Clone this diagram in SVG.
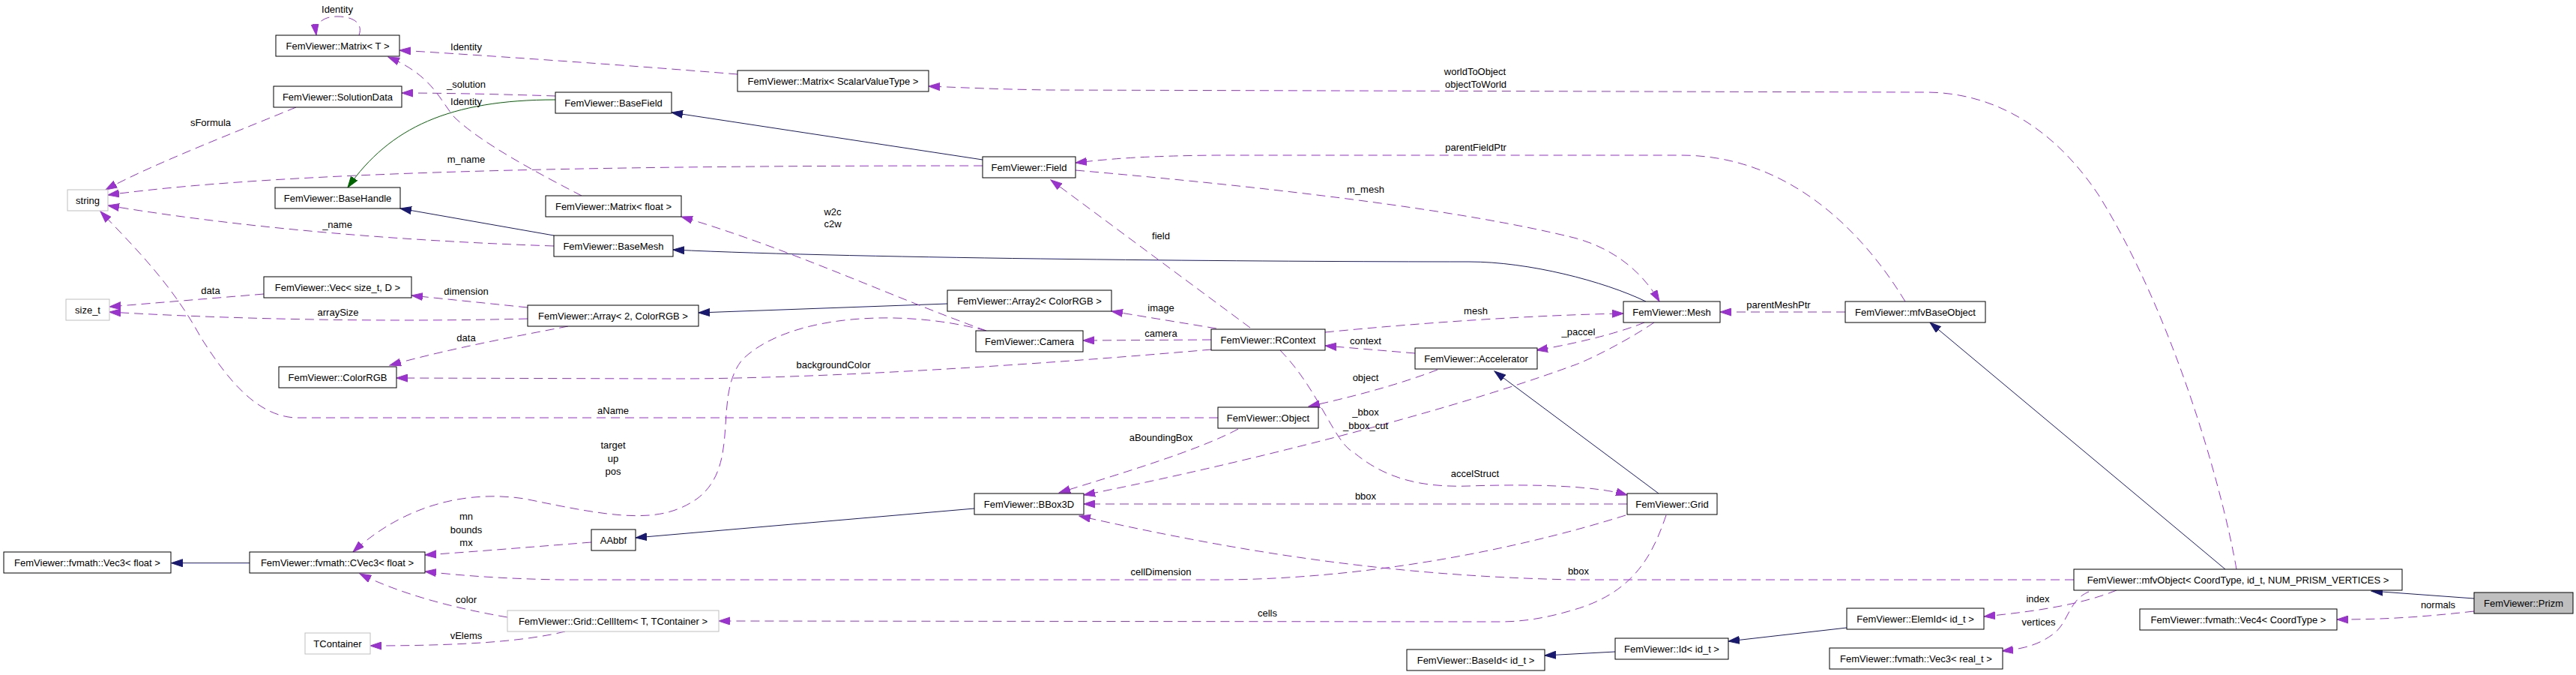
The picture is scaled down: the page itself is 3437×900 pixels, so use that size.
<svg xmlns="http://www.w3.org/2000/svg" width="3437" height="900" viewBox="0 0 3437 900">
<style>
text{font-family:"Liberation Sans",Arial,sans-serif;font-size:13px;fill:#000;text-anchor:middle}
.n rect{fill:#fff;stroke:#000;stroke-width:1}
.g rect{fill:#fff;stroke:#bfbfbf;stroke-width:1}
.f rect{fill:#bfbfbf;stroke:#000;stroke-width:1}
.u{fill:none;stroke:#9a32cd;stroke-width:1;stroke-dasharray:12,7;marker-end:url(#ap)}
.i{fill:none;stroke:#191970;stroke-width:1;marker-end:url(#ai)}
.p{fill:none;stroke:#006400;stroke-width:1;marker-end:url(#ag)}
</style>
<defs>
<marker id="ap" markerWidth="16" markerHeight="11" refX="15" refY="5.5" orient="auto" markerUnits="userSpaceOnUse"><path d="M0,0.5 L15,5.5 L0,10.5 z" fill="#9a32cd" stroke="#9a32cd"/></marker>
<marker id="ai" markerWidth="16" markerHeight="11" refX="15" refY="5.5" orient="auto" markerUnits="userSpaceOnUse"><path d="M0,0.5 L15,5.5 L0,10.5 z" fill="#191970" stroke="#191970"/></marker>
<marker id="ag" markerWidth="16" markerHeight="11" refX="15" refY="5.5" orient="auto" markerUnits="userSpaceOnUse"><path d="M0,0.5 L15,5.5 L0,10.5 z" fill="#006400" stroke="#006400"/></marker>
</defs>
<rect width="3437" height="900" fill="#fff"/>
<g id="connectors">
<path class="i" d="M333,750.7 L228.6,750.7"/>
<path class="i" d="M1300,678 L848,717"/>
<path class="i" d="M1311,213 L896,150"/>
<path class="i" d="M739,314 L534,278"/>
<path class="i" d="M2196,402 C2140,375 2040,349 1960,349 C1700,349 1150,345 898,333"/>
<path class="i" d="M1264,405 L932,417"/>
<path class="i" d="M2213,658 L1994,495"/>
<path class="i" d="M2969,759 L2575,430"/>
<path class="i" d="M3301,798 L3164,788"/>
<path class="i" d="M2464,837 L2306,855"/>
<path class="i" d="M2155,869 L2061,874"/>
<path class="p" d="M741,133 C600,133 520,170 464,250"/>
<path class="u" d="M479,47 C485,30 470,22 450,22 C430,22 420,32 422,47"/>
<path class="u" d="M984,99 C850,88 650,74 533,67"/>
<path class="u" d="M776,261 C720,232 640,190 605,155 C585,130 575,100 518,76"/>
<path class="u" d="M741,128 C680,126 600,124 536,124"/>
<path class="u" d="M395,143 C330,170 200,220 141,253"/>
<path class="u" d="M1311,221 C900,221 400,225 144,260"/>
<path class="u" d="M739,328 C500,320 300,300 144,274"/>
<path class="u" d="M1625,557 L395,557 C340,555 300,500 268,450 C230,380 180,330 134,282"/>
<path class="u" d="M352,392 L146,409"/>
<path class="u" d="M704,410 L549,394"/>
<path class="u" d="M704,425 C500,430 300,425 146,416"/>
<path class="u" d="M758,435 C680,450 600,465 520,487"/>
<path class="u" d="M1616,466 C1400,485 1100,505 900,505 L529,504"/>
<path class="u" d="M1623,438 L1483,415"/>
<path class="u" d="M1616,453 L1445,454"/>
<path class="u" d="M1668,437 L1402,240"/>
<path class="u" d="M1768,443 C1900,430 2050,420 2166,418"/>
<path class="u" d="M1888,471 L1768,461"/>
<path class="u" d="M2194,430 C2170,440 2120,455 2050,467"/>
<path class="u" d="M1918,493 C1860,515 1800,530 1746,542"/>
<path class="u" d="M2207,430 C2170,455 2120,480 2100,487 C1900,560 1600,630 1446,660"/>
<path class="u" d="M1652,572 C1600,600 1500,630 1413,657"/>
<path class="u" d="M1708,467 C1760,520 1780,590 1806,603 C1850,640 1900,650 1960,648 C2050,645 2130,648 2171,660"/>
<path class="u" d="M2171,672 L1446,672"/>
<path class="u" d="M2767,773 L2100,773 C1850,768 1650,735 1440,688"/>
<path class="u" d="M2169,687 C2000,740 1800,773 1623,773 L750,773 C680,772 620,768 567,762"/>
<path class="u" d="M2223,687 C2205,740 2180,790 2100,813 C2060,825 2030,829 2000,829 L959,828"/>
<path class="u" d="M1316,441 C1200,400 1050,330 909,289"/>
<path class="u" d="M1316,441 C1200,410 1050,420 990,480 C950,530 990,620 930,665 C880,700 820,690 700,665 C600,650 520,690 471,736"/>
<path class="u" d="M789,723 C700,730 640,735 567,740"/>
<path class="u" d="M677,823 C600,810 530,790 480,765"/>
<path class="u" d="M754,842 C700,855 620,861 494,861"/>
<path class="u" d="M2542,402 C2480,300 2380,207 2243,207 L1623,207 C1520,208 1480,212 1435,217"/>
<path class="u" d="M1435,227 C1700,250 1950,280 2100,317 C2150,330 2190,360 2214,402"/>
<path class="u" d="M2462,416 L2295,416"/>
<path class="u" d="M2984,759 C2965,650 2900,420 2800,260 C2740,170 2660,123 2569,123 L1400,120 C1330,119 1290,117 1239,115"/>
<path class="u" d="M2824,787 C2780,805 2720,815 2647,822"/>
<path class="u" d="M2787,789 C2760,800 2760,830 2740,845 C2720,860 2700,865 2671,868"/>
<path class="u" d="M3301,815 C3230,823 3180,826 3118,826"/>
<text x="450" y="17">Identity</text>
<text x="622" y="67">Identity</text>
<text x="622" y="117">_solution</text>
<text x="622" y="140">Identity</text>
<text x="622" y="217">m_name</text>
<text x="281" y="168">sFormula</text>
<text x="450" y="304">_name</text>
<text x="818" y="552">aName</text>
<text x="281" y="392">data</text>
<text x="622" y="393">dimension</text>
<text x="451" y="421">arraySize</text>
<text x="622" y="455">data</text>
<text x="1112" y="491">backgroundColor</text>
<text x="1549" y="415">image</text>
<text x="1549" y="449">camera</text>
<text x="1549" y="319">field</text>
<text x="1969" y="419">mesh</text>
<text x="1822" y="459">context</text>
<text x="2106" y="447">_paccel</text>
<text x="1822" y="508">object</text>
<text x="1822" y="554">_bbox</text>
<text x="1822" y="572">_bbox_cut</text>
<text x="1549" y="588">aBoundingBox</text>
<text x="1968" y="636">accelStruct</text>
<text x="1822" y="666">bbox</text>
<text x="2106" y="766">bbox</text>
<text x="1549" y="767">cellDimension</text>
<text x="1691" y="822">cells</text>
<text x="1111" y="287">w2c</text>
<text x="1111" y="303">c2w</text>
<text x="818" y="598">target</text>
<text x="818" y="616">up</text>
<text x="818" y="633">pos</text>
<text x="622" y="693">mn</text>
<text x="622" y="711">bounds</text>
<text x="622" y="728">mx</text>
<text x="622" y="804">color</text>
<text x="622" y="852">vElems</text>
<text x="1969" y="201">parentFieldPtr</text>
<text x="1822" y="257">m_mesh</text>
<text x="2373" y="411">parentMeshPtr</text>
<text x="1968" y="100">worldToObject</text>
<text x="1969" y="117">objectToWorld</text>
<text x="2719" y="803">index</text>
<text x="2720" y="834">vertices</text>
<text x="3253" y="811">normals</text>
</g>
<g id="n1" class="n"><rect x="368" y="47" width="165" height="28"/><text x="450.5" y="65.5">FemViewer::Matrix&lt; T &gt;</text></g>
<g id="n2" class="n"><rect x="365" y="115" width="171" height="28"/><text x="450.5" y="133.5">FemViewer::SolutionData</text></g>
<g id="n3" class="g"><rect x="90" y="253" width="54" height="28"/><text x="117" y="271.5">string</text></g>
<g id="n4" class="n"><rect x="367" y="250" width="167" height="28"/><text x="450.5" y="268.5">FemViewer::BaseHandle</text></g>
<g id="n5" class="n"><rect x="741" y="123" width="155" height="28"/><text x="818.5" y="141.5">FemViewer::BaseField</text></g>
<g id="n6" class="n"><rect x="984" y="94" width="255" height="28"/><text x="1111.5" y="112.5">FemViewer::Matrix&lt; ScalarValueType &gt;</text></g>
<g id="n7" class="n"><rect x="1311" y="209" width="124" height="28"/><text x="1373" y="227.5">FemViewer::Field</text></g>
<g id="n8" class="n"><rect x="728" y="261" width="181" height="28"/><text x="818.5" y="279.5">FemViewer::Matrix&lt; float &gt;</text></g>
<g id="n9" class="n"><rect x="739" y="314" width="159" height="28"/><text x="818.5" y="332.5">FemViewer::BaseMesh</text></g>
<g id="n10" class="n"><rect x="352" y="369" width="197" height="28"/><text x="450.5" y="387.5">FemViewer::Vec&lt; size_t, D &gt;</text></g>
<g id="n11" class="g"><rect x="88" y="399" width="58" height="28"/><text x="117" y="417.5">size_t</text></g>
<g id="n12" class="n"><rect x="704" y="407" width="228" height="28"/><text x="818" y="425.5">FemViewer::Array&lt; 2, ColorRGB &gt;</text></g>
<g id="n13" class="n"><rect x="372" y="489" width="157" height="28"/><text x="450.5" y="507.5">FemViewer::ColorRGB</text></g>
<g id="n14" class="n"><rect x="1264" y="387" width="219" height="28"/><text x="1373.5" y="405.5">FemViewer::Array2&lt; ColorRGB &gt;</text></g>
<g id="n15" class="n"><rect x="1302" y="441" width="143" height="28"/><text x="1373.5" y="459.5">FemViewer::Camera</text></g>
<g id="n16" class="n"><rect x="1616" y="439" width="152" height="28"/><text x="1692" y="457.5">FemViewer::RContext</text></g>
<g id="n17" class="n"><rect x="1625" y="543" width="134" height="28"/><text x="1692" y="561.5">FemViewer::Object</text></g>
<g id="n18" class="n"><rect x="1888" y="464" width="163" height="28"/><text x="1969.5" y="482.5">FemViewer::Accelerator</text></g>
<g id="n19" class="n"><rect x="2166" y="402" width="129" height="28"/><text x="2230.5" y="420.5">FemViewer::Mesh</text></g>
<g id="n20" class="n"><rect x="2462" y="402" width="187" height="28"/><text x="2555.5" y="420.5">FemViewer::mfvBaseObject</text></g>
<g id="n21" class="n"><rect x="1300" y="658" width="146" height="28"/><text x="1373" y="676.5">FemViewer::BBox3D</text></g>
<g id="n22" class="n"><rect x="789" y="706" width="59" height="28"/><text x="818.5" y="724.5">AAbbf</text></g>
<g id="n23" class="n"><rect x="5" y="736" width="223" height="28"/><text x="116.5" y="754.5">FemViewer::fvmath::Vec3&lt; float &gt;</text></g>
<g id="n24" class="n"><rect x="333" y="736" width="234" height="28"/><text x="450" y="754.5">FemViewer::fvmath::CVec3&lt; float &gt;</text></g>
<g id="n25" class="g"><rect x="677" y="814" width="282" height="28"/><text x="818" y="832.5">FemViewer::Grid::CellItem&lt; T, TContainer &gt;</text></g>
<g id="n26" class="g"><rect x="407" y="844" width="87" height="28"/><text x="450.5" y="862.5">TContainer</text></g>
<g id="n27" class="n"><rect x="2171" y="658" width="120" height="28"/><text x="2231" y="676.5">FemViewer::Grid</text></g>
<g id="n28" class="n"><rect x="2767" y="759" width="438" height="28"/><text x="2986" y="777.5">FemViewer::mfvObject&lt; CoordType, id_t, NUM_PRISM_VERTICES &gt;</text></g>
<g id="n29" class="f"><rect x="3301" y="790" width="132" height="28"/><text x="3367" y="808.5">FemViewer::Prizm</text></g>
<g id="n30" class="n"><rect x="2855" y="812" width="263" height="28"/><text x="2986.5" y="830.5">FemViewer::fvmath::Vec4&lt; CoordType &gt;</text></g>
<g id="n31" class="n"><rect x="2464" y="811" width="183" height="28"/><text x="2555.5" y="829.5">FemViewer::ElemId&lt; id_t &gt;</text></g>
<g id="n32" class="n"><rect x="2155" y="851" width="151" height="28"/><text x="2230.5" y="869.5">FemViewer::Id&lt; id_t &gt;</text></g>
<g id="n33" class="n"><rect x="2441" y="864" width="231" height="28"/><text x="2556.5" y="882.5">FemViewer::fvmath::Vec3&lt; real_t &gt;</text></g>
<g id="n34" class="n"><rect x="1877" y="866" width="184" height="28"/><text x="1969" y="884.5">FemViewer::BaseId&lt; id_t &gt;</text></g>
</svg>
